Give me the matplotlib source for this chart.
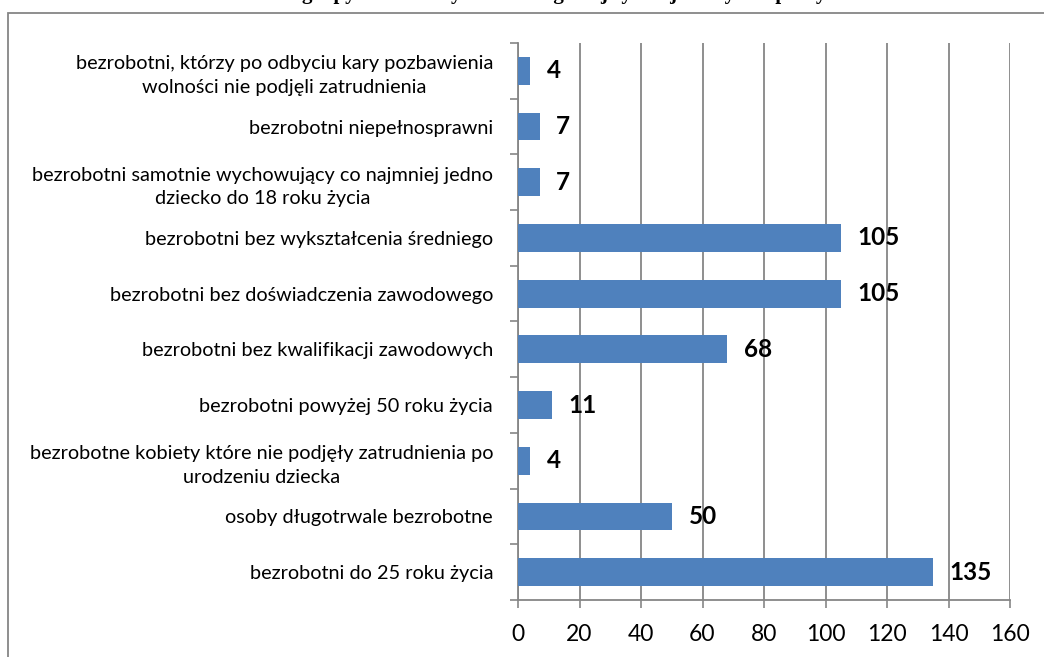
import numpy as np
import matplotlib.pyplot as plt
from matplotlib.patches import Rectangle

# categories, top to bottom as in the picture
categories = [
    "bezrobotni, którzy po odbyciu kary pozbawienia\nwolności nie podjęli zatrudnienia",
    "bezrobotni niepełnosprawni",
    "bezrobotni samotnie wychowujący co najmniej jedno\ndziecko do 18 roku życia",
    "bezrobotni bez wykształcenia średniego",
    "bezrobotni bez doświadczenia zawodowego",
    "bezrobotni bez kwalifikacji zawodowych",
    "bezrobotni powyżej 50 roku życia",
    "bezrobotne kobiety które nie podjęły zatrudnienia po\nurodzeniu dziecka",
    "osoby długotrwale bezrobotne",
    "bezrobotni do 25 roku życia",
]
counts = [4, 7, 7, 105, 105, 68, 11, 4, 50, 135]
x_ticks = [0, 20, 40, 60, 80, 100, 120, 140, 160]
title = "Liczba osób z grupy bezrobotnych w szczególnej sytuacji na rynku pracy"

bar_color = "#4F81BD"
grid_color = "#868686"
plt.rcParams["font.family"] = ["Lato", "DejaVu Sans"]

fig = plt.figure(figsize=(10.44, 6.57), dpi=100)
W, H = 1044, 657

# outer chart frame (runs off the right/bottom edge of the image)
fig.patches.append(Rectangle((8 / W, -0.1), 1.2, 1 - 13 / H + 0.1,
                             transform=fig.transFigure, fill=False,
                             edgecolor=grid_color, linewidth=1.3))

# title, cut off by the top edge: only the descenders show
fig.text(826 / W, 1 + 1.0 / H, title, ha="right", va="baseline",
         fontsize=15, fontweight="bold", family=["Liberation Serif"])

ax = fig.add_axes([518 / W, 1 - 600 / H, (1010 - 518) / W, (600 - 43) / H])

y = np.arange(len(categories))
ax.barh(y, counts, height=0.5, color=bar_color, zorder=3)
ax.set_ylim(len(categories) - 0.5, -0.5)
ax.set_xlim(0, 160)

ax.set_xticks(x_ticks)
ax.set_xticklabels([str(v) for v in x_ticks], fontsize=16.5)
ax.tick_params(axis="x", length=6, width=1.2, color=grid_color, pad=11)

ax.set_yticks(y)
ax.set_yticklabels(categories, fontsize=14.3, multialignment="center",
                   linespacing=1.45)
ax.tick_params(axis="y", which="major", length=0, pad=18)
ax.set_yticks(np.arange(len(categories) + 1) - 0.5, minor=True)
ax.tick_params(axis="y", which="minor", length=6, width=1.2, color=grid_color)

ax.grid(axis="x", color=grid_color, linewidth=1.3, zorder=0)
for side in ["top", "right"]:
    ax.spines[side].set_visible(False)
for side in ["left", "bottom"]:
    ax.spines[side].set_color(grid_color)
    ax.spines[side].set_linewidth(1.3)

for yi, v in zip(y, counts):
    ax.annotate(str(v), (v, yi), xytext=(12, 0), textcoords="offset points",
                va="center", ha="left", fontsize=17.5, fontweight="bold")

fig.savefig("out.png", dpi=100)
